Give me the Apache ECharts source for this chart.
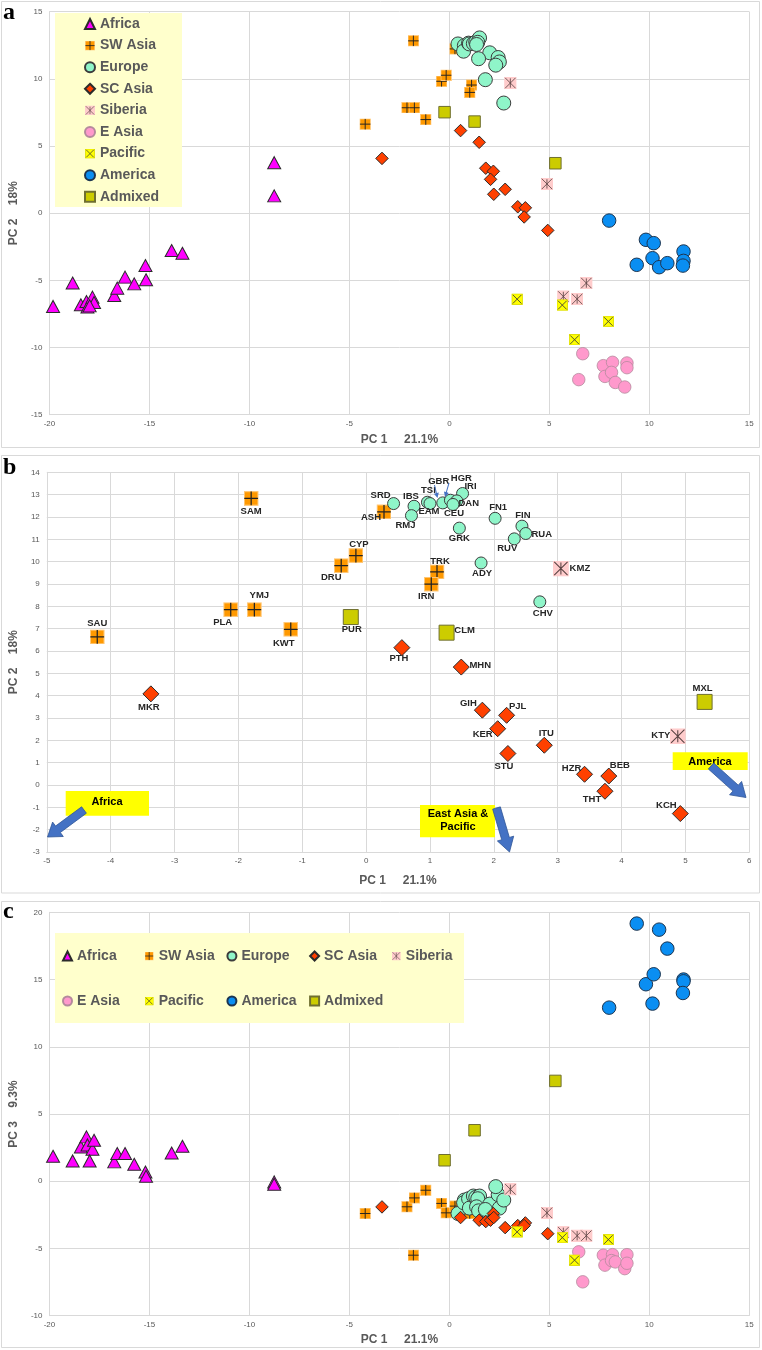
<!DOCTYPE html>
<html><head><meta charset="utf-8">
<script src="https://cdn.jsdelivr.net/npm/echarts@6/dist/echarts.min.js"></script>
<style>html,body{margin:0;padding:0;background:#fff}#c{width:762px;height:1350px}</style>
</head><body><div id="c"></div>
<script>
// ================= DATA =================
const groups = ['Africa','SW Asia','Europe','SC Asia','Siberia','E Asia','Pacific','America','Admixed'];

const africaPC1 = [-19.82,-18.84,-18.43,-18.15,-18.10,-17.85,-17.77,-17.99,-16.76,-16.61,-16.22,-15.76,-15.20,-15.17,-13.89,-13.35,-8.76,-8.76];
const africaPC2 = [-6.94,-5.20,-6.82,-6.57,-6.99,-6.25,-6.65,-6.90,-6.12,-5.58,-4.76,-5.26,-3.89,-4.96,-2.78,-2.98,3.76,1.29];
const africaPC3 = [1.86,1.51,2.55,3.30,2.70,2.38,3.05,1.51,1.44,2.06,2.06,1.26,0.69,0.37,2.10,2.60,-0.05,-0.22];

const swAsiaNames = ['SAU','SAM','PLA','YMJ','KWT','DRU','CYP','ASH','TRK','IRN'];
const swAsiaPC1 = [-4.21,-1.80,-2.12,-1.75,-1.18,-0.39,-0.16,0.28,1.11,1.02];
const swAsiaPC2 = [6.63,12.83,7.85,7.85,6.97,9.82,10.27,12.23,9.54,8.99];
const swAsiaPC3 = [-2.40,-5.50,-1.90,-1.24,-0.67,-1.65,-2.35,-1.85,-2.00,-2.40];

const europeNames = ['SRD','IBS','RMJ','TSI','EAM','GBR','HGR','IRI','DAN','CEU','FN1','GRK','FIN','RUA','RUV','ADY','CHV'];
const europePC1 = [0.43,0.75,0.71,0.96,1.00,1.20,1.32,1.51,1.42,1.36,2.02,1.46,2.44,2.50,2.32,1.80,2.72];
const europePC2 = [12.60,12.48,12.06,12.66,12.60,12.63,12.75,13.05,12.72,12.56,11.94,11.50,11.59,11.26,11.02,9.94,8.20];
const europePC3 = [-2.40,-1.40,-1.60,-1.30,-2.00,-1.10,-1.20,-1.10,-1.30,-1.90,-1.70,-2.20,-1.00,-2.00,-0.40,-2.10,-1.40];

const scAsiaNames = ['MKR','PTH','MHN','GIH','PJL','KER','STU','ITU','HZR','BEB','THT','KCH'];
const scAsiaPC1 = [-3.37,0.56,1.49,1.82,2.20,2.06,2.22,2.79,3.42,3.80,3.74,4.92];
const scAsiaPC2 = [4.08,6.15,5.28,3.35,3.12,2.52,1.41,1.78,0.48,0.40,-0.28,-1.28];
const scAsiaPC3 = [-1.91,-2.70,-2.90,-3.00,-2.40,-2.90,-2.70,-3.45,-3.30,-3.10,-3.30,-3.90];

const siberiaNames = ['KMZ','KTY','','',''];
const siberiaPC1 = [3.05,4.88,5.70,6.39,6.85];
const siberiaPC2 = [9.69,2.18,-6.20,-6.39,-5.20];
const siberiaPC3 = [-0.60,-2.35,-3.80,-4.05,-4.05];

const eAsiaPC1 = [6.67,6.47,7.70,8.16,7.78,8.11,8.30,8.77,8.88,8.88];
const eAsiaPC2 = [-10.46,-12.39,-11.35,-11.10,-12.15,-11.85,-12.60,-12.94,-11.15,-11.50];
const eAsiaPC3 = [-7.48,-5.25,-5.50,-5.46,-6.24,-5.90,-6.00,-6.50,-5.46,-6.10];

const pacificPC1 = [3.39,5.65,7.95,6.26];
const pacificPC2 = [-6.40,-6.84,-8.06,-9.42];
const pacificPC3 = [-3.77,-4.19,-4.34,-5.87];

const americaPC1 = [7.99,9.83,10.22,10.16,9.37,10.49,10.90,11.71,11.71,11.68];
const americaPC2 = [-0.55,-1.98,-2.23,-3.35,-3.84,-4.02,-3.72,-2.85,-3.55,-3.90];
const americaPC3 = [12.91,14.65,15.39,13.21,19.16,18.71,17.30,15.00,14.87,14.00];

const admixedNames = ['PUR','CLM','MXL'];
const admixedPC1 = [-0.24,1.26,5.30];
const admixedPC2 = [7.52,6.82,3.72];
const admixedPC3 = [1.56,3.79,7.46];

const xTicksA = [-20,15,5];   // min, max, step
const yTicksA = [-15,15,5];
const xTicksB = [-5,6,1];
const yTicksB = [-3,14,1];
const xTicksC = [-20,15,5];
const yTicksC = [-10,20,5];

// ================= BUILD =================
const GROUP_DATA = {
  'Africa': {names: [], pc1: africaPC1, pc2: africaPC2, pc3: africaPC3},
  'SW Asia': {names: swAsiaNames, pc1: swAsiaPC1, pc2: swAsiaPC2, pc3: swAsiaPC3},
  'Europe': {names: europeNames, pc1: europePC1, pc2: europePC2, pc3: europePC3},
  'SC Asia': {names: scAsiaNames, pc1: scAsiaPC1, pc2: scAsiaPC2, pc3: scAsiaPC3},
  'Siberia': {names: siberiaNames, pc1: siberiaPC1, pc2: siberiaPC2, pc3: siberiaPC3},
  'E Asia': {names: [], pc1: eAsiaPC1, pc2: eAsiaPC2, pc3: eAsiaPC3},
  'Pacific': {names: [], pc1: pacificPC1, pc2: pacificPC2, pc3: pacificPC3},
  'America': {names: [], pc1: americaPC1, pc2: americaPC2, pc3: americaPC3},
  'Admixed': {names: admixedNames, pc1: admixedPC1, pc2: admixedPC2, pc3: admixedPC3}
};

function svgUri(svg){ return 'image://data:image/svg+xml;charset=utf-8,' + encodeURIComponent(svg); }
const SW_SYMBOL = svgUri("<svg xmlns='http://www.w3.org/2000/svg' width='24' height='24' viewBox='0 0 24 24'><rect width='24' height='24' fill='#ffc878'/><rect x='2' y='2' width='20' height='20' fill='#ff9900'/><path d='M12 1V23M1 12H23' stroke='#222' stroke-width='2'/></svg>");
const SIB_SYMBOL = svgUri("<svg xmlns='http://www.w3.org/2000/svg' width='24' height='24' viewBox='0 0 24 24'><rect width='24' height='24' fill='#ffcccc'/><path d='M2 2L22 22M22 2L2 22M12 3V21' stroke='#5a4343' stroke-width='1.6'/></svg>");
const PAC_SYMBOL = svgUri("<svg xmlns='http://www.w3.org/2000/svg' width='24' height='24' viewBox='0 0 24 24'><rect x='1' y='1' width='22' height='22' fill='#ffff00' stroke='#dede00' stroke-width='2'/><path d='M3 3L21 21M21 3L3 21' stroke='#4d4d33' stroke-width='2'/></svg>");

const STYLE = {
  'Africa': {symbol:'triangle', color:'#ff00ff', border:'#2b2b2b', bw:1, size:{a:[13,12],b:[13,12],c:[13,12]}},
  'SW Asia': {symbol:SW_SYMBOL, color:'#ff9900', border:'#ff9900', bw:0, size:{a:11.5,b:15,c:11.5}},
  'Europe': {symbol:'circle', color:'#8ff5c9', border:'#3c3c3c', bw:1, size:{a:14,b:12,c:14}},
  'SC Asia': {symbol:'diamond', color:'#ff4000', border:'#2b2b2b', bw:1, size:{a:12.5,b:16,c:12.5}},
  'Siberia': {symbol:SIB_SYMBOL, color:'#ffcccc', border:'#ffcccc', bw:0, size:{a:12.5,b:16,c:12.5}},
  'E Asia': {symbol:'circle', color:'#ff99cc', border:'#b58a9d', bw:0.8, size:{a:12.5,b:12,c:12.5}},
  'Pacific': {symbol:PAC_SYMBOL, color:'#ffff00', border:'#ffff00', bw:0, size:{a:11.5,b:11.5,c:11.5}},
  'America': {symbol:'circle', color:'#0a8ef2', border:'#1d3550', bw:1, size:{a:13.5,b:13,c:13.5}},
  'Admixed': {symbol:'rect', color:'#cccc00', border:'#6f6f30', bw:1, size:{a:11.5,b:15,c:11.5}}
};

// label offsets (pixels from marker centre) for panel b
const LABEL_OFFSET_B = {
  SAU:[0,-14], SAM:[0,13], PLA:[-8,13], YMJ:[5,-14], KWT:[-7,14], PUR:[1,12], DRU:[-10,12], CYP:[3,-11], ASH:[-13,6],
  SRD:[-13,-8], IBS:[-3,-10], RMJ:[-6,10], TSI:[1,-12], EAM:[-1,8], GBR:[-4,-22], HGR:[11,-22], IRI:[8,-7], DAN:[12,2],
  CEU:[1,9], FN1:[3,-11], GRK:[0,10], FIN:[1,-11], RUA:[16,1], RUV:[-7,10], ADY:[1,10], TRK:[3,-11], IRN:[-5,12],
  KMZ:[19,0], CHV:[3,12], CLM:[18,-2], PTH:[-3,11], MHN:[19,-2], GIH:[-14,-7], PJL:[11,-9], KER:[-15,6], STU:[-4,13],
  ITU:[2,-12], HZR:[-13,-6], BEB:[11,-11], THT:[-13,8], KCH:[-14,-8], KTY:[-17,-1], MXL:[-2,-14], MKR:[-2,14]
};

const FONT = '"Liberation Sans", Arial, sans-serif';
const GRAY = '#595959';
const LINE = '#d9d9d9';

const panels = [
  {key:'a', yKey:'pc2', xt:xTicksA, yt:yTicksA, grid:{left:36, top:11.7, width:713.3, height:403},
   xName:'PC 1     21.1%', yName:'PC 2    18%', xGap:19, yGap:17},
  {key:'b', yKey:'pc2', xt:xTicksB, yt:yTicksB, grid:{left:35.7, top:472.3, width:713.6, height:379.7},
   xName:'PC 1     21.1%', yName:'PC 2    18%', xGap:23, yGap:19},
  {key:'c', yKey:'pc3', xt:xTicksC, yt:yTicksC, grid:{left:35.7, top:912.3, width:713.6, height:403.4},
   xName:'PC 1     21.1%', yName:'PC 3    9.3%', xGap:18, yGap:17}
];

const grids = [], xAxes = [], yAxes = [], series = [];
panels.forEach((p, pi) => {
  grids.push(Object.assign({containLabel:false}, p.grid));
  const common = {
    type:'value', gridIndex:pi,
    axisLine:{show:true, onZero:false, lineStyle:{color:LINE, width:1}},
    axisTick:{show:false},
    splitLine:{show:true, lineStyle:{color:LINE, width:1}},
    nameLocation:'middle',
    nameTextStyle:{fontSize:12, fontWeight:'bold', color:GRAY, fontFamily:FONT}
  };
  xAxes.push(Object.assign({}, common, {min:p.xt[0], max:p.xt[1], interval:p.xt[2], name:p.xName, nameGap:p.xGap,
    axisLabel:{fontSize:8, color:GRAY, fontFamily:FONT, margin:5}}));
  yAxes.push(Object.assign({}, common, {min:p.yt[0], max:p.yt[1], interval:p.yt[2], name:p.yName, nameGap:p.yGap, nameRotate:90,
    axisLabel:{fontSize:8, color:GRAY, fontFamily:FONT, margin:7}}));

  groups.forEach(g => {
    const d = GROUP_DATA[g], st = STYLE[g];
    const data = d.pc1.map((x, i) => {
      const nm = d.names[i] || '';
      const item = {value:[x, d[p.yKey][i]], name:nm};
      if (p.key === 'b' && nm) {
        item.label = {show:true, offset: LABEL_OFFSET_B[nm] || [0,-12]};
      }
      return item;
    });
    series.push({
      type:'scatter', name:g, xAxisIndex:pi, yAxisIndex:pi, data:data, clip:true,
      symbol:st.symbol, symbolSize:st.size[p.key],
      itemStyle:{color:st.color, borderColor:st.border, borderWidth:st.bw, opacity:1},
      label:{show:false, position:'inside', formatter:'{b}', fontSize:9.5, fontWeight:'bold', color:'#262626', fontFamily:FONT},
      emphasis:{disabled:true}, z:2
    });
  });
});

function blockArrow(x1,y1,x2,y2,sw,hw,hl){
  const dx=x2-x1, dy=y2-y1, L=Math.hypot(dx,dy), ux=dx/L, uy=dy/L, nx=-uy, ny=ux;
  const bx=x2-ux*hl, by=y2-uy*hl;
  return [[x1+nx*sw/2,y1+ny*sw/2],[bx+nx*sw/2,by+ny*sw/2],[bx+nx*hw/2,by+ny*hw/2],[x2,y2],
          [bx-nx*hw/2,by-ny*hw/2],[bx-nx*sw/2,by-ny*sw/2],[x1-nx*sw/2,y1-ny*sw/2]];
}

const legendText = {fontSize:14, fontWeight:'bold', color:GRAY, fontFamily:FONT, lineHeight:16};
const legendC = (names, top) => ({
  data:names, orient:'horizontal', left:57, top:top, itemWidth:9, itemHeight:9, itemGap:0, selectedMode:false, z:10,
  formatter: n => '{t|' + n + '}',
  textStyle:{fontSize:14, fontWeight:'bold', color:GRAY, fontFamily:FONT, lineHeight:18,
    rich:{t:{width:67.7, fontSize:14, fontWeight:'bold', color:GRAY, fontFamily:FONT, lineHeight:18}}}
});

const graphic = [
  {type:'rect', shape:{x:1.5,y:1.5,width:758,height:446}, style:{fill:'none', stroke:LINE, lineWidth:1}, z:0},
  {type:'rect', shape:{x:1.5,y:455.5,width:758,height:437.5}, style:{fill:'none', stroke:LINE, lineWidth:1}, z:0},
  {type:'rect', shape:{x:1.5,y:901.5,width:758,height:446}, style:{fill:'none', stroke:LINE, lineWidth:1}, z:0},
  {type:'rect', shape:{x:55,y:13,width:127,height:194}, style:{fill:'#ffffcc'}, z:1},
  {type:'rect', shape:{x:55,y:933,width:409,height:90}, style:{fill:'#ffffcc'}, z:1},
  {type:'text', x:3, y:13, style:{text:'a', font:'bold 24px "Liberation Serif"', fill:'#000', verticalAlign:'middle'}, z:5},
  {type:'text', x:3, y:468, style:{text:'b', font:'bold 24px "Liberation Serif"', fill:'#000', verticalAlign:'middle'}, z:5},
  {type:'text', x:3, y:912, style:{text:'c', font:'bold 24px "Liberation Serif"', fill:'#000', verticalAlign:'middle'}, z:5},
  // annotation boxes in panel b
  {type:'rect', shape:{x:65.7,y:791,width:83.3,height:24.7}, style:{fill:'#ffff00'}, z:5},
  {type:'text', x:107, y:802, style:{text:'Africa', font:'bold 11px "Liberation Sans"', fill:'#000', align:'center', verticalAlign:'middle'}, z:6},
  {type:'rect', shape:{x:420,y:805,width:75,height:32.3}, style:{fill:'#ffff00'}, z:5},
  {type:'text', x:458, y:814, style:{text:'East Asia &', font:'bold 11px "Liberation Sans"', fill:'#000', align:'center', verticalAlign:'middle'}, z:6},
  {type:'text', x:458, y:827, style:{text:'Pacific', font:'bold 11px "Liberation Sans"', fill:'#000', align:'center', verticalAlign:'middle'}, z:6},
  {type:'rect', shape:{x:672.7,y:752.3,width:75,height:17.7}, style:{fill:'#ffff00'}, z:5},
  {type:'text', x:710, y:761.5, style:{text:'America', font:'bold 11px "Liberation Sans"', fill:'#000', align:'center', verticalAlign:'middle'}, z:6},
  {type:'polygon', shape:{points:blockArrow(84,810,47.5,837,8,18,13)}, style:{fill:'#4472c4', stroke:'#2f5597', lineWidth:0.8}, z:7},
  {type:'polygon', shape:{points:blockArrow(496.5,808,509.5,852,8,17,14)}, style:{fill:'#4472c4', stroke:'#2f5597', lineWidth:0.8}, z:7},
  {type:'polygon', shape:{points:blockArrow(711,766,746,797.5,8,18,14)}, style:{fill:'#4472c4', stroke:'#2f5597', lineWidth:0.8}, z:7},
  // small pointer arrows for GBR and HGR
  {type:'polygon', shape:{points:blockArrow(434.5,485,437.5,498,1,5,5)}, style:{fill:'#4472c4'}, z:7},
  {type:'polygon', shape:{points:blockArrow(449,483,445,497,1,5,5)}, style:{fill:'#4472c4'}, z:7}
];

const option = {
  animation:false,
  backgroundColor:'#ffffff',
  grid:grids, xAxis:xAxes, yAxis:yAxes, series:series, graphic:graphic,
  legend:[
    {data:groups, orient:'vertical', left:79, top:11, itemWidth:10, itemHeight:10, itemGap:5.6, selectedMode:false, z:10, textStyle:legendText},
    legendC(groups.slice(0,5), 942),
    legendC(groups.slice(5), 987)
  ]
};
const chart = echarts.init(document.getElementById('c'), null, {renderer:'canvas'});
chart.setOption(option);
</script>
</body></html>
